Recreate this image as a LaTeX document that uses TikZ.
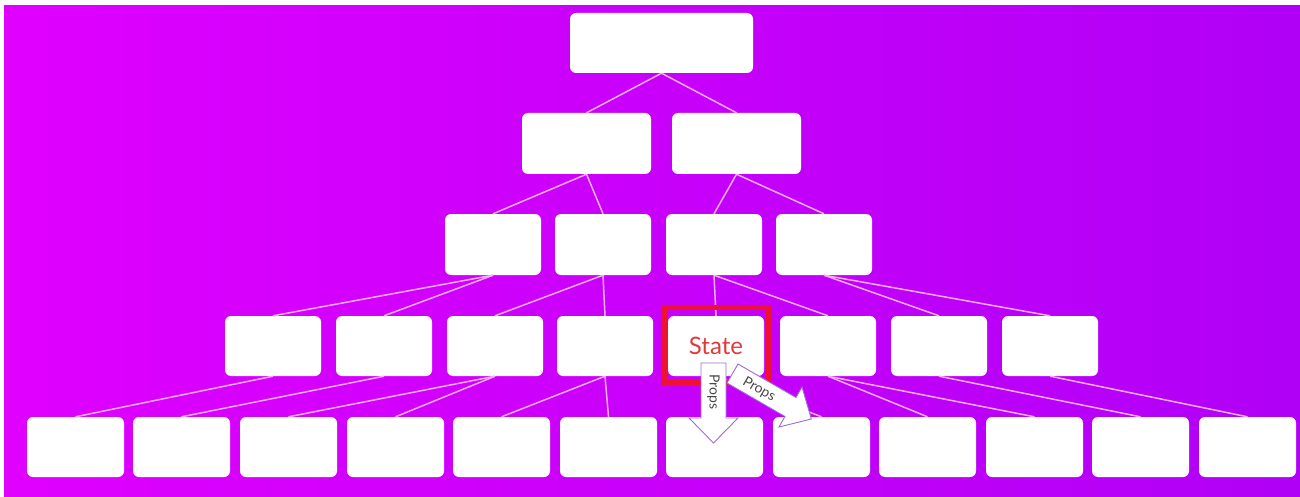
\documentclass[tikz,border=0pt]{standalone}
\usepackage{fontspec}
\setmainfont{Lato}
\definecolor{bgL}{HTML}{E000FF}
\definecolor{bgR}{HTML}{B000F6}
\definecolor{edgec}{HTML}{F7AEF7}
\definecolor{framec}{HTML}{EE1230}
\definecolor{statec}{HTML}{E23A3A}
\definecolor{arrowc}{HTML}{9C6CD8}
\definecolor{propsc}{HTML}{4A4A4A}
\begin{document}
\begin{tikzpicture}[x=1pt,y=-1pt,
  box/.style={fill=white, rounded corners=6pt, inner sep=0pt, minimum height=60pt},
  link/.style={draw=edgec, line width=1.5pt},
  redframe/.style={draw=framec, line width=5pt},
  propsshape/.style={draw=arrowc, fill=white, line width=0.9pt, line join=miter},
  propstext/.style={font=\fontsize{14}{16}\selectfont, text=propsc, inner sep=0pt}]
\useasboundingbox (0,0) rectangle (1300,497);
\fill[white] (0,0) rectangle (1300,497);
\shade[left color=bgL, right color=bgR] (4,6) rectangle (1300,497);

% level 1
\node[box, minimum width=183pt] (r) at (661.5,43) {};
% level 2
\node[box, minimum width=129pt, minimum height=61pt] (b1) at (586.5,143.5) {};
\node[box, minimum width=129pt, minimum height=61pt] (b2) at (736.5,143.5) {};
% level 3
\foreach \x [count=\i] in {493,603,714,824}
  \node[box, minimum width=96pt, minimum height=61pt] (c\i) at (\x,244.5) {};
% level 4
\foreach \x [count=\i] in {273,384,495,605}
  \node[box, minimum width=96pt] (d\i) at (\x,346) {};
\node[box, minimum width=96pt, text=statec, font=\fontsize{24}{28}\selectfont] (d5) at (716,346) {State};
\foreach \x [count=\i from 6] in {828,939,1050}
  \node[box, minimum width=96pt] (d\i) at (\x,346) {};
% level 5
\foreach \x [count=\i] in {75.5,181.5,288.5,395.5,501.5,608.5,714.5,821.5,927.5,1034.5,1140.5,1247.5}
  \node[box, minimum width=97pt] (e\i) at (\x,447) {};

% connectors
\draw[link] (r.south) -- (b1.north);
\draw[link] (r.south) -- (b2.north);
\draw[link] (b1.south) -- (c1.north);
\draw[link] (b1.south) -- (c2.north);
\draw[link] (b2.south) -- (c3.north);
\draw[link] (b2.south) -- (c4.north);
\draw[link] (c1.south) -- (d1.north);
\draw[link] (c1.south) -- (d2.north);
\draw[link] (c2.south) -- (d3.north);
\draw[link] (c2.south) -- (d4.north);
\draw[link] (c3.south) -- (d5.north);
\draw[link] (c3.south) -- (d6.north);
\draw[link] (c4.south) -- (d7.north);
\draw[link] (c4.south) -- (d8.north);
\draw[link] (d1.south) -- (e1.north);
\draw[link] (d2.south) -- (e2.north);
\draw[link] (d3.south) -- (e3.north);
\draw[link] (d3.south) -- (e4.north);
\draw[link] (d4.south) -- (e5.north);
\draw[link] (d4.south) -- (e6.north);
\draw[link] (d5.south) -- (e7.north);
\draw[link] (d5.south) -- (e8.north);
\draw[link] (d6.south) -- (e9.north);
\draw[link] (d6.south) -- (e10.north);
\draw[link] (d7.south) -- (e11.north);
\draw[link] (d8.south) -- (e12.north);

% red highlight round the State box
\draw[redframe] ([shift={(-3,-8.5)}]d5.north west) rectangle ([shift={(4,6.5)}]d5.south east);

% Props arrows
\draw[propsshape] (701,363) -- (726,363) -- (726,418) -- (738,418) -- (713.5,443) -- (689,418) -- (701,418) -- cycle;
\node[propstext, rotate=-90] (pdown) at (713.5,392) {Props};
\draw[propsshape] (738,364) -- (796,397.5) -- (802,387) -- (811.3,419) -- (779,427) -- (785,416.5) -- (727,383) -- cycle;
\node[propstext, rotate=-30] (pdiag) at (759,389.5) {Props};
\end{tikzpicture}
\end{document}
